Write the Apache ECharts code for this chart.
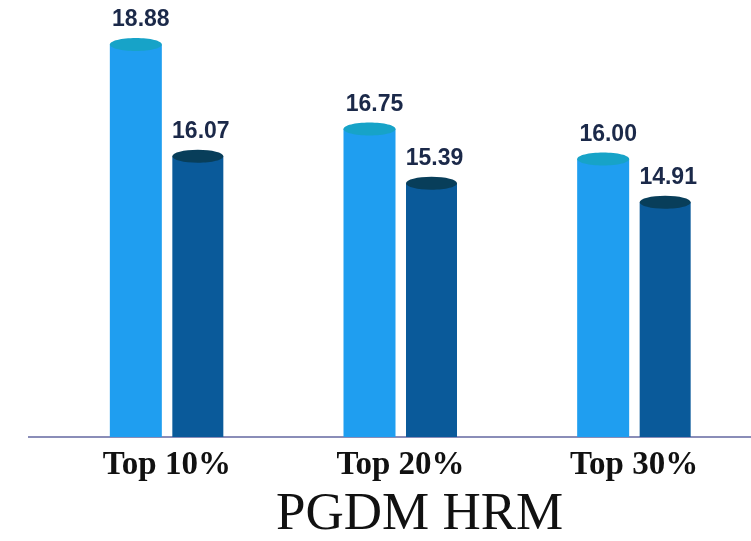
<!DOCTYPE html>
<html>
<head>
<meta charset="utf-8">
<script src="https://cdn.jsdelivr.net/npm/echarts@6/dist/echarts.min.js"></script>
<style>
  html, body { margin: 0; padding: 0; background: #ffffff; }
  #chart { width: 751px; height: 541px; }
</style>
</head>
<body>
<div id="chart"></div>
<script>
// Categories and the two series of values
const categories = ['Top 10%', 'Top 20%', 'Top 30%'];
const seriesA = [18.88, 16.75, 16.00];
const seriesB = [16.07, 15.39, 14.91];
const yMin = 9;
const yMax = 20;

const chart = echarts.init(document.getElementById('chart'));

// Draws one cylinder: a body rectangle from the axis to the value,
// an ellipse cap at the value and the value label above it.
function cylinder(offset, width, bodyColor, capColor, labelDx) {
  return function (params, api) {
    const idx = api.value(0);
    const v = api.value(1);
    const top = api.coord([idx, v]);
    const base = api.coord([idx, yMin]);
    const cx = top[0] + offset;
    const capRy = 6.5;
    return {
      type: 'group',
      children: [
        {
          type: 'rect',
          shape: { x: cx - width / 2, y: top[1], width: width, height: base[1] - top[1] },
          style: { fill: bodyColor }
        },
        {
          type: 'ellipse',
          shape: { cx: cx, cy: top[1], rx: width / 2, ry: capRy },
          style: { fill: capColor }
        },
        {
          type: 'text',
          style: {
            text: v.toFixed(2),
            x: cx + labelDx,
            y: top[1] - 13,
            align: 'center',
            verticalAlign: 'bottom',
            fill: '#1b2949',
            font: 'bold 23px "Liberation Sans", Arial, sans-serif'
          }
        }
      ]
    };
  };
}

const option = {
  animation: false,
  backgroundColor: '#ffffff',
  title: {
    text: 'PGDM HRM',
    left: 271,
    top: 484,
    textStyle: {
      fontFamily: '"Liberation Serif", "Times New Roman", serif',
      fontWeight: 'normal',
      fontSize: 53,
      color: '#111111'
    }
  },
  grid: { left: 50, right: 0, top: 0, bottom: 104 },
  xAxis: {
    type: 'category',
    data: categories,
    axisTick: { show: false },
    axisLine: { lineStyle: { color: '#8a8db8', width: 2 } },
    axisLabel: {
      margin: 12,
      fontFamily: '"Liberation Serif", "Times New Roman", serif',
      fontWeight: 'bold',
      fontSize: 33,
      color: '#111111'
    }
  },
  yAxis: {
    type: 'value',
    min: yMin,
    max: yMax,
    show: false,
    splitLine: { show: false }
  },
  graphic: [
    {
      type: 'line',
      shape: { x1: 28, y1: 437, x2: 51, y2: 437 },
      style: { stroke: '#8a8db8', lineWidth: 2 }
    }
  ],
  series: [
    {
      type: 'custom',
      renderItem: cylinder(-31, 52, '#1f9ef0', '#17a3c8', 5),
      encode: { x: 0, y: 1 },
      data: seriesA.map((v, i) => [i, v])
    },
    {
      type: 'custom',
      renderItem: cylinder(31, 51, '#0a5a9a', '#083e5a', 3),
      encode: { x: 0, y: 1 },
      data: seriesB.map((v, i) => [i, v])
    }
  ]
};

chart.setOption(option);
</script>
</body>
</html>
